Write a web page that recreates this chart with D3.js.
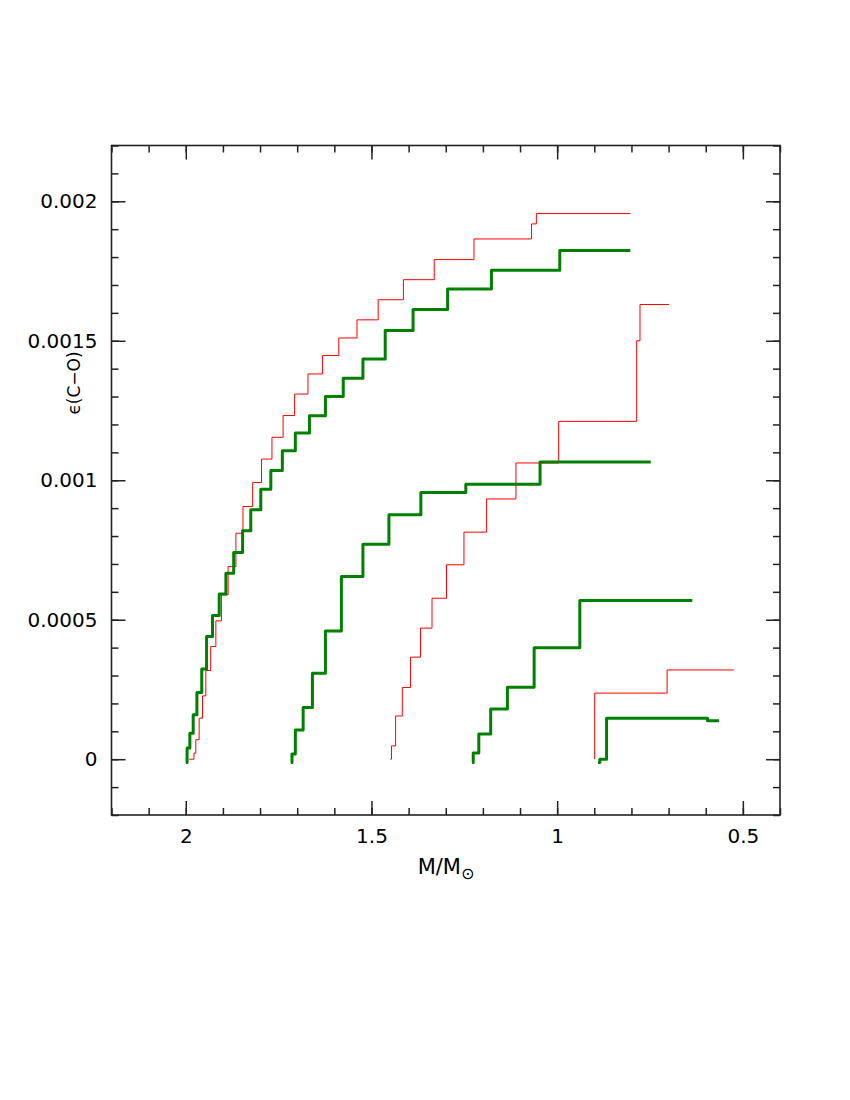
<!DOCTYPE html>
<html>
<head>
<meta charset="utf-8">
<script src="https://cdn.jsdelivr.net/npm/d3@7"></script>
<style>
  body { margin: 0; background: #fff; }
  svg { display: block; }
  .axis text { font-family: "DejaVu Sans", sans-serif; font-size: 20px; fill: #000; }
  .axis line { stroke: #222; stroke-width: 1.5; }
</style>
</head>
<body>
<div id="chart"></div>
<script>
// ---- data (M/Msun where each step rises, eps(C-O) level after the step) ----
var red1Mass = [1.991, 1.978, 1.973, 1.964, 1.955, 1.946, 1.933, 1.919, 1.904, 1.886, 1.865, 1.846, 1.820,
                1.796, 1.768, 1.738, 1.707, 1.671, 1.632, 1.588, 1.539, 1.482, 1.414, 1.331, 1.224, 1.069, 1.056, 0.803];
var red1Eps  = [0, 0.000022, 0.00007, 0.000147, 0.000227, 0.000318, 0.000404, 0.000496, 0.000589, 0.000691, 0.00081, 0.000906, 0.000992,
                0.001076, 0.001154, 0.001232, 0.001309, 0.001381, 0.001447, 0.00151, 0.001575, 0.001647, 0.001719, 0.001791, 0.001865, 0.001919, 0.001956, 0.001956];

var green1Mass = [2.0, 1.9965, 1.989, 1.980, 1.970, 1.957, 1.944, 1.928, 1.910, 1.892, 1.871, 1.847, 1.825, 1.798,
                  1.771, 1.740, 1.705, 1.667, 1.624, 1.576, 1.523, 1.463, 1.388, 1.295, 1.177, 0.993, 0.803];
var green1Eps  = [-0.000012, 0.00004, 0.000093, 0.000159, 0.000239, 0.000323, 0.00044, 0.000515, 0.000592, 0.000667, 0.000741, 0.000819, 0.000894, 0.000968,
                  0.001035, 0.001106, 0.001169, 0.001231, 0.0013, 0.001366, 0.001435, 0.001537, 0.001612, 0.001686, 0.001753, 0.001824, 0.001824];

var green2Mass = [1.717, 1.714, 1.705, 1.684, 1.659, 1.624, 1.581, 1.523, 1.453, 1.367, 1.246, 1.046, 0.748];
var green2Eps  = [-0.000012, 0.000019, 0.000105, 0.000185, 0.000308, 0.00046, 0.000655, 0.000771, 0.000876, 0.000956, 0.000986, 0.001065, 0.001065];

var red2Mass = [1.449, 1.446, 1.435, 1.417, 1.395, 1.368, 1.337, 1.298, 1.251, 1.190, 1.111, 0.996, 0.786, 0.777, 0.699];
var red2Eps  = [0, 0.000048, 0.000155, 0.000257, 0.000366, 0.00047, 0.000577, 0.000697, 0.000814, 0.000933, 0.001062, 0.001211, 0.0015, 0.00163, 0.00163];

var green3Mass = [1.229, 1.226, 1.211, 1.179, 1.134, 1.062, 0.939, 0.636];
var green3Eps  = [-0.000012, 0.000022, 0.00009, 0.00018, 0.000258, 0.0004, 0.000569, 0.000569];

var red3Mass = [0.899, 0.899, 0.704, 0.524];
var red3Eps  = [0, 0.000237, 0.00032, 0.00032];

var green4Mass = [0.890, 0.885, 0.867, 0.595, 0.564];
var green4Eps  = [-0.000012, 0, 0.000147, 0.000138, 0.000138];

var xTickValues = [2, 1.5, 1, 0.5];
var xTickLabels = ["2", "1.5", "1", "0.5"];
var yTickValues = [0, 0.0005, 0.001, 0.0015, 0.002];
var yTickLabels = ["0", "0.0005", "0.001", "0.0015", "0.002"];

var series = [
    { mass: red1Mass,   eps: red1Eps,   color: "#ff0000", width: 1 },
    { mass: red2Mass,   eps: red2Eps,   color: "#ff0000", width: 1 },
    { mass: red3Mass,   eps: red3Eps,   color: "#ff0000", width: 1 },
    { mass: green1Mass, eps: green1Eps, color: "#008000", width: 3 },
    { mass: green2Mass, eps: green2Eps, color: "#008000", width: 3 },
    { mass: green3Mass, eps: green3Eps, color: "#008000", width: 3 },
    { mass: green4Mass, eps: green4Eps, color: "#008000", width: 3 }
];

// plot box in page pixels ("top" is reserved on window, so use a margin object)
var margin = { left: 111.5, right: 780, top: 145.5, bottom: 815 };
var W = margin.right - margin.left, H = margin.bottom - margin.top;

var svg = d3.select("#chart").append("svg")
    .attr("width", 850)
    .attr("height", 1100);

// mass decreases to the right
var x = d3.scaleLinear().domain([2.2, 0.4]).range([0, W]);
var y = d3.scaleLinear().domain([-0.0002, 0.0022]).range([H, 0]);

var g = svg.append("g").attr("transform", "translate(" + margin.left + "," + margin.top + ")");

var xMinor = d3.range(4, 23).map(function(i) { return i / 10; });
var yMinor = d3.range(-2, 23).map(function(i) { return i / 10000; });

function addAxis(axis, tx, ty) {
    var a = g.append("g")
        .attr("class", "axis")
        .attr("transform", "translate(" + tx + "," + ty + ")")
        .call(axis);
    a.select(".domain").remove();
    return a;
}

// minor ticks, all four sides, pointing inward
addAxis(d3.axisBottom(x).tickValues(xMinor).tickSize(-7).tickFormat(""), 0, H);
addAxis(d3.axisTop(x).tickValues(xMinor).tickSize(-7).tickFormat(""), 0, 0);
addAxis(d3.axisLeft(y).tickValues(yMinor).tickSize(-7).tickFormat(""), 0, 0);
addAxis(d3.axisRight(y).tickValues(yMinor).tickSize(-7).tickFormat(""), W, 0);

// major ticks with labels
addAxis(d3.axisBottom(x).tickValues(xTickValues).tickSize(-14).tickPadding(14)
    .tickFormat(function(d, i) { return xTickLabels[i]; }), 0, H);
addAxis(d3.axisTop(x).tickValues(xTickValues).tickSize(-14).tickFormat(""), 0, 0);
addAxis(d3.axisLeft(y).tickValues(yTickValues).tickSize(-14).tickPadding(14)
    .tickFormat(function(d, i) { return yTickLabels[i]; }), 0, 0);
addAxis(d3.axisRight(y).tickValues(yTickValues).tickSize(-14).tickFormat(""), W, 0);

//frame
g.append("rect")
    .attr("width", W)
    .attr("height", H)
    .style("fill", "none")
    .style("stroke", "#222")
    .style("stroke-width", 1.6);

// step curves
var line = d3.line()
    .x(function(d) { return x(d[0]); })
    .y(function(d) { return y(d[1]); })
    .curve(d3.curveStepAfter);

g.selectAll("path.curve")
    .data(series)
    .enter()
    .append("path")
    .attr("class", "curve")
    .attr("d", function(s) { return line(d3.zip(s.mass, s.eps)); })
    .style("fill", "none")
    .style("stroke", function(s) { return s.color; })
    .style("stroke-width", function(s) { return s.width; })
    .style("stroke-linejoin", "round");

// axis titles
var xt = svg.append("text")
    .attr("x", 446)
    .attr("y", 874)
    .attr("text-anchor", "middle")
    .style("font-family", "DejaVu Sans, sans-serif")
    .style("font-size", "21px");
xt.append("tspan").text("M/M");
xt.append("tspan").attr("dy", 5).style("font-size", "16px").text("\u2299");

svg.append("text")
    .attr("transform", "translate(80,383) rotate(-90)")
    .attr("text-anchor", "middle")
    .style("font-family", "DejaVu Sans, sans-serif")
    .style("font-size", "17px")
    .text("\u03F5(C\u2212O)");
</script>
</body>
</html>
